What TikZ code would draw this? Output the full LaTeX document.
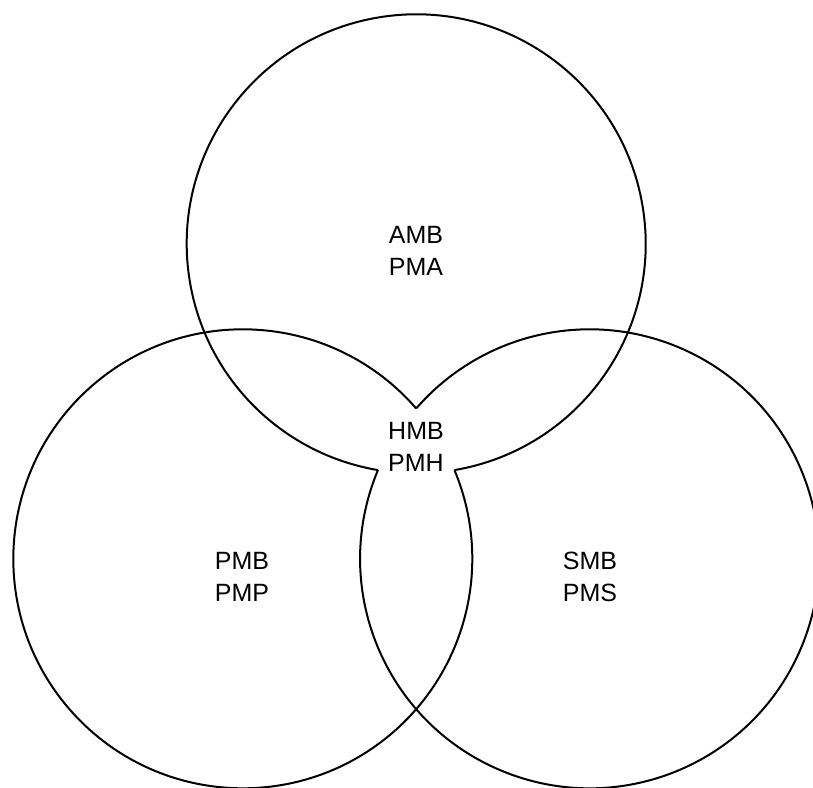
\documentclass[tikz,border=0pt]{standalone}
\usepackage{fontspec}
\setmainfont{Liberation Sans}
\begin{document}
\begin{tikzpicture}[x=1pt,y=1pt,
  ring/.style={draw=black,line width=2pt,line join=round},
  lbl/.style={font=\fontsize{25}{31.5}\selectfont,align=center,inner sep=0pt}]
\useasboundingbox (0,0) rectangle (813,-787);
\clip (0,0) rectangle (813,-787);
\coordinate (T) at (416.2,-243.8);
\coordinate (L) at (242.8,-558.8);
\coordinate (R) at (589.6,-558.8);
% top circle, without the arc bounding the common region
\draw[ring] (T) ++(-80.40:229.5) arc[start angle=-80.40,end angle=260.40,radius=229.5];
% left circle
\draw[ring] (L) ++(40.93:229.5) arc[start angle=40.93,end angle=382.74,radius=229.5];
% right circle
\draw[ring] (R) ++(157.26:229.5) arc[start angle=157.26,end angle=499.07,radius=229.5];
\node[lbl] (a) at (416,-251) {AMB\\PMA};
\node[lbl] (h) at (416,-447) {HMB\\PMH};
\node[lbl] (p) at (242,-577) {PMB\\PMP};
\node[lbl] (s) at (590,-577) {SMB\\PMS};
\end{tikzpicture}
\end{document}
